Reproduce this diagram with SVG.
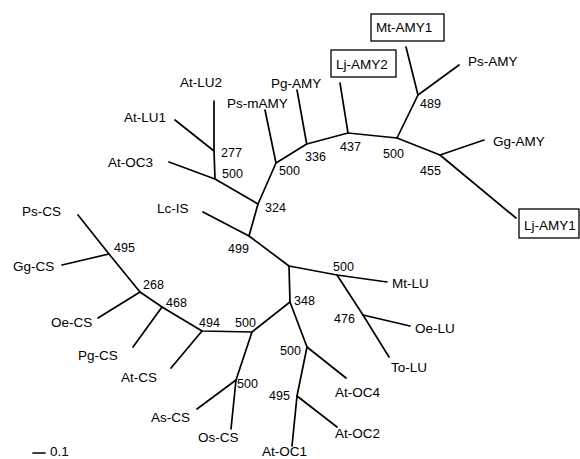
<svg xmlns="http://www.w3.org/2000/svg" width="580" height="459" viewBox="0 0 580 459">
<style>
.lb{font-family:"Liberation Sans",Arial,sans-serif;font-size:13.5px;fill:#000}
.bs{font-family:"Liberation Sans",Arial,sans-serif;font-size:12.5px;fill:#000}
.bx{fill:#fff;stroke:#000;stroke-width:1.3}
.e{stroke:#000;stroke-width:1.7;fill:none;stroke-linecap:round;stroke-linejoin:round}
</style>
<rect width="580" height="459" fill="#fff"/>
<g id="connectors" class="e">
<path d="M258,204 L215,179 L214,151 L214,101"/>
<path d="M214,151 L175,120"/>
<path d="M215,179 L169,162"/>
<path d="M258,204 L276,163 L306.7,144 L348,133 L397,138 L440,155"/>
<path d="M276,163 L265,110"/>
<path d="M306.7,144 L297,90"/>
<path d="M348,133 L340,83"/>
<path d="M397,138 L418,95 L406,47"/>
<path d="M418,95 L459,65"/>
<path d="M440,155 L484,140"/>
<path d="M440,155 L516,218"/>
<path d="M258,204 L249,236 L203,212"/>
<path d="M249,236 L289,266 L337,275 L387,282"/>
<path d="M337,275 L363,315 L389,357"/>
<path d="M363,315 L410,326"/>
<path d="M289,266 L290,302 L307,347 L297,396 L292,446"/>
<path d="M307,347 L346,378"/>
<path d="M297,396 L337,427"/>
<path d="M290,302 L252,332 L236,380 L231,429"/>
<path d="M236,380 L197,409"/>
<path d="M252,332 L202,331 L162,307 L140,292 L109,254 L78,215"/>
<path d="M202,331 L171,368"/>
<path d="M162,307 L133,347"/>
<path d="M140,292 L98,318"/>
<path d="M109,254 L62,265"/>
<path d="M33,453 L45,453"/>
</g>
<g id="leaf-At-LU2"><text class="lb" x="180" y="87">At-LU2</text></g>
<g id="leaf-At-LU1"><text class="lb" x="124" y="122">At-LU1</text></g>
<g id="leaf-At-OC3"><text class="lb" x="108" y="167">At-OC3</text></g>
<g id="leaf-Ps-mAMY"><text class="lb" x="227" y="108">Ps-mAMY</text></g>
<g id="leaf-Pg-AMY"><text class="lb" x="271" y="88">Pg-AMY</text></g>
<g id="leaf-Lj-AMY2"><rect class="bx" x="331" y="50" width="65" height="27"/><text class="lb" x="336" y="69">Lj-AMY2</text></g>
<g id="leaf-Mt-AMY1"><rect class="bx" x="371" y="14" width="73" height="27"/><text class="lb" x="376" y="32">Mt-AMY1</text></g>
<g id="leaf-Ps-AMY"><text class="lb" x="468" y="66">Ps-AMY</text></g>
<g id="leaf-Gg-AMY"><text class="lb" x="493" y="146">Gg-AMY</text></g>
<g id="leaf-Lj-AMY1"><rect class="bx" x="519" y="209" width="60" height="29"/><text class="lb" x="524" y="230">Lj-AMY1</text></g>
<g id="leaf-Lc-IS"><text class="lb" x="157" y="213">Lc-IS</text></g>
<g id="leaf-Ps-CS"><text class="lb" x="22" y="216">Ps-CS</text></g>
<g id="leaf-Gg-CS"><text class="lb" x="13" y="271">Gg-CS</text></g>
<g id="leaf-Oe-CS"><text class="lb" x="51" y="327">Oe-CS</text></g>
<g id="leaf-Pg-CS"><text class="lb" x="78" y="360">Pg-CS</text></g>
<g id="leaf-At-CS"><text class="lb" x="121" y="382">At-CS</text></g>
<g id="leaf-As-CS"><text class="lb" x="151" y="422">As-CS</text></g>
<g id="leaf-Os-CS"><text class="lb" x="198" y="442">Os-CS</text></g>
<g id="leaf-At-OC1"><text class="lb" x="262" y="456">At-OC1</text></g>
<g id="leaf-At-OC2"><text class="lb" x="335" y="438">At-OC2</text></g>
<g id="leaf-At-OC4"><text class="lb" x="335" y="397">At-OC4</text></g>
<g id="leaf-To-LU"><text class="lb" x="391" y="372">To-LU</text></g>
<g id="leaf-Oe-LU"><text class="lb" x="415" y="333">Oe-LU</text></g>
<g id="leaf-Mt-LU"><text class="lb" x="392" y="288">Mt-LU</text></g>
<g id="scale"><text class="lb" x="50" y="456">0.1</text></g>
<g id="n277"><text class="bs" x="221" y="157">277</text></g>
<g id="n500-atlu"><text class="bs" x="222" y="178">500</text></g>
<g id="n324"><text class="bs" x="265" y="212">324</text></g>
<g id="n500-psm"><text class="bs" x="279" y="175">500</text></g>
<g id="n336"><text class="bs" x="305" y="161">336</text></g>
<g id="n437"><text class="bs" x="340" y="151">437</text></g>
<g id="n500-amy"><text class="bs" x="383" y="158">500</text></g>
<g id="n489"><text class="bs" x="420" y="108">489</text></g>
<g id="n455"><text class="bs" x="420" y="175">455</text></g>
<g id="n499"><text class="bs" x="228" y="253">499</text></g>
<g id="n500-lu"><text class="bs" x="333" y="271">500</text></g>
<g id="n476"><text class="bs" x="334" y="323">476</text></g>
<g id="n348"><text class="bs" x="294" y="305">348</text></g>
<g id="n500-oc"><text class="bs" x="280" y="355">500</text></g>
<g id="n495-oc"><text class="bs" x="269" y="400">495</text></g>
<g id="n500-cs"><text class="bs" x="235" y="327">500</text></g>
<g id="n494"><text class="bs" x="199" y="327">494</text></g>
<g id="n500-asos"><text class="bs" x="237" y="388">500</text></g>
<g id="n468"><text class="bs" x="166" y="307">468</text></g>
<g id="n268"><text class="bs" x="143" y="289">268</text></g>
<g id="n495-cs"><text class="bs" x="114" y="252">495</text></g>
</svg>
